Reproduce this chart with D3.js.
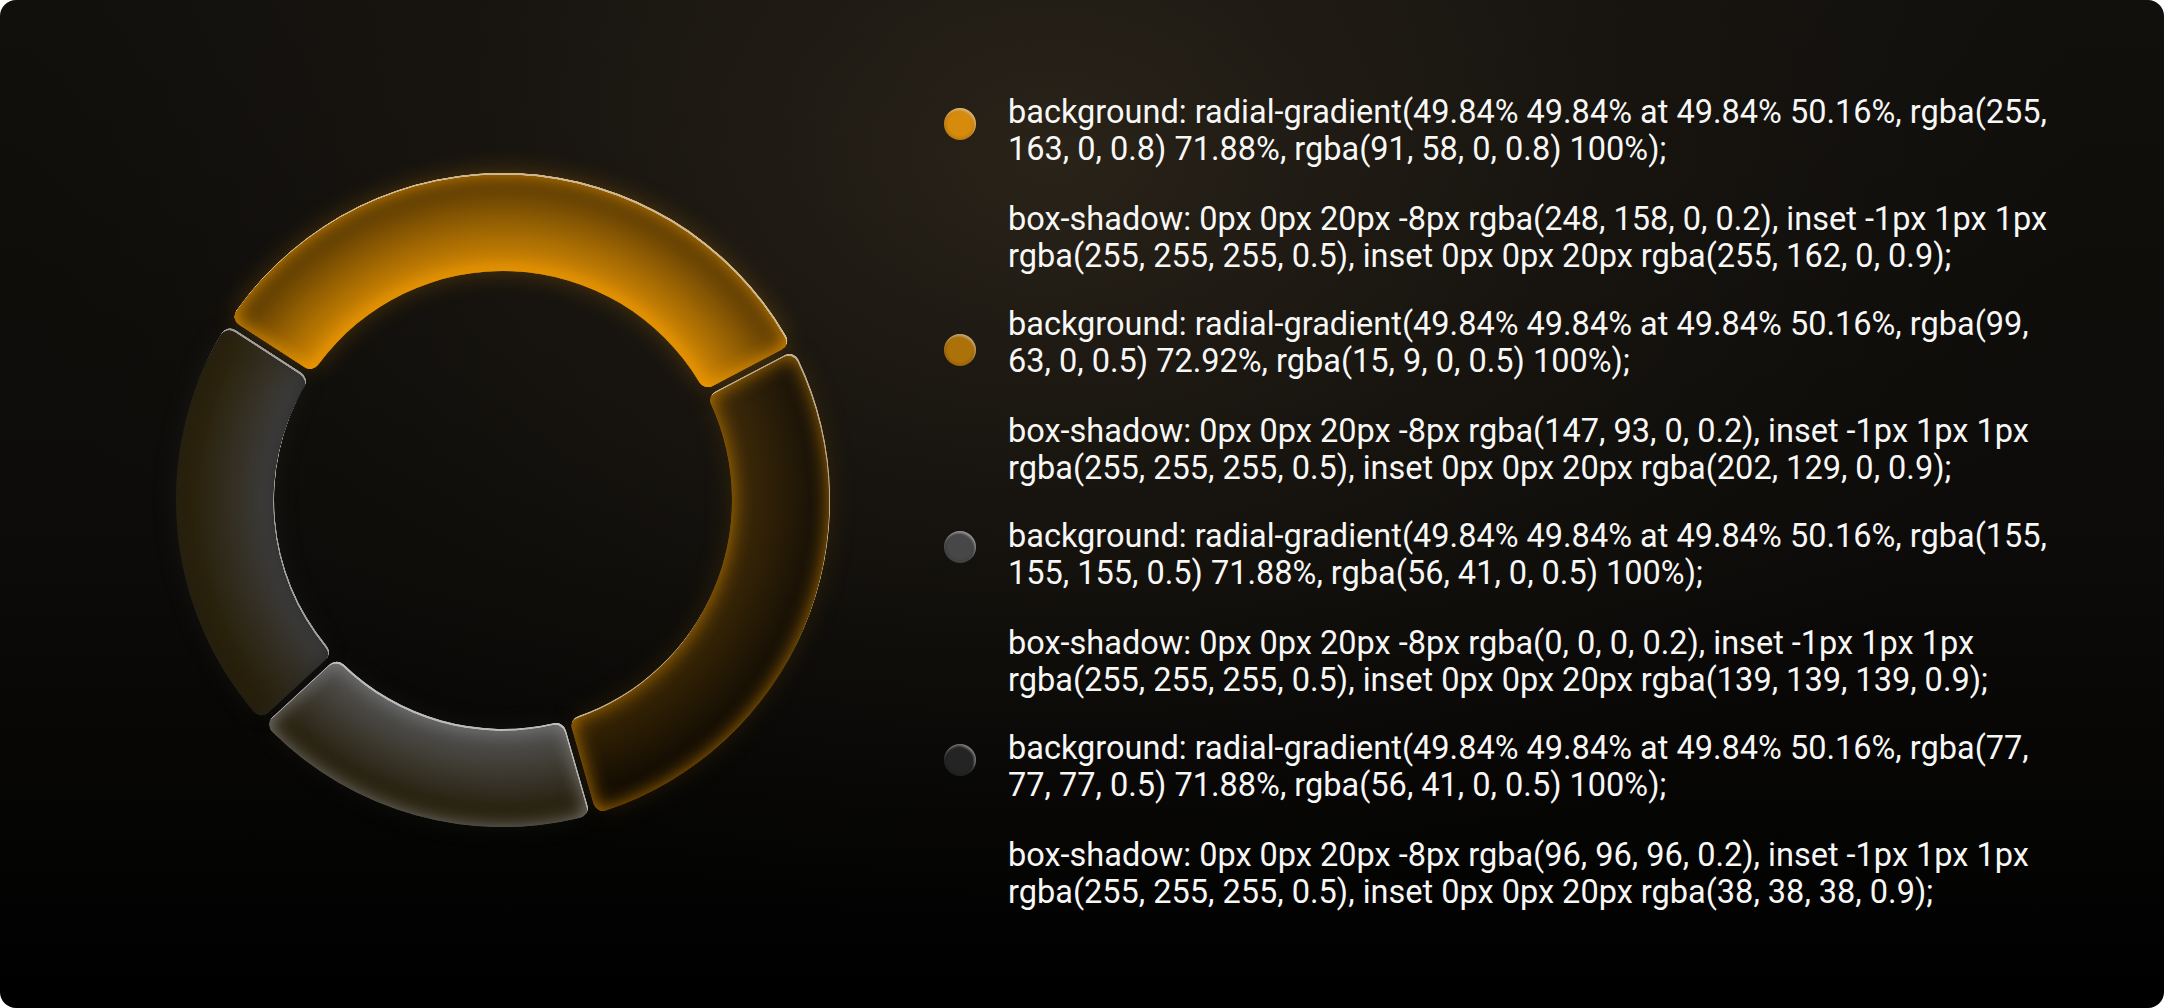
<!DOCTYPE html>
<html>
<head>
<meta charset="utf-8">
<script src="https://cdn.jsdelivr.net/npm/d3@7"></script>
<style>
  html, body { margin: 0; padding: 0; background: #ffffff; }
  svg { display: block; }
</style>
</head>
<body>
<div id="chart"></div>
<script>
// ---------------- data ----------------
const categories = ["Segment 1", "Segment 2", "Segment 3", "Segment 4"];
const values = [33.2, 28.3, 17.5, 21.0];

const backgroundLines = [
  ["background: radial-gradient(49.84% 49.84% at 49.84% 50.16%, rgba(255,", "163, 0, 0.8) 71.88%, rgba(91, 58, 0, 0.8) 100%);"],
  ["background: radial-gradient(49.84% 49.84% at 49.84% 50.16%, rgba(99,", "63, 0, 0.5) 72.92%, rgba(15, 9, 0, 0.5) 100%);"],
  ["background: radial-gradient(49.84% 49.84% at 49.84% 50.16%, rgba(155,", "155, 155, 0.5) 71.88%, rgba(56, 41, 0, 0.5) 100%);"],
  ["background: radial-gradient(49.84% 49.84% at 49.84% 50.16%, rgba(77,", "77, 77, 0.5) 71.88%, rgba(56, 41, 0, 0.5) 100%);"]
];
const shadowLines = [
  ["box-shadow: 0px 0px 20px -8px rgba(248, 158, 0, 0.2), inset -1px 1px 1px", "rgba(255, 255, 255, 0.5), inset 0px 0px 20px rgba(255, 162, 0, 0.9);"],
  ["box-shadow: 0px 0px 20px -8px rgba(147, 93, 0, 0.2), inset -1px 1px 1px", "rgba(255, 255, 255, 0.5), inset 0px 0px 20px rgba(202, 129, 0, 0.9);"],
  ["box-shadow: 0px 0px 20px -8px rgba(0, 0, 0, 0.2), inset -1px 1px 1px", "rgba(255, 255, 255, 0.5), inset 0px 0px 20px rgba(139, 139, 139, 0.9);"],
  ["box-shadow: 0px 0px 20px -8px rgba(96, 96, 96, 0.2), inset -1px 1px 1px", "rgba(255, 255, 255, 0.5), inset 0px 0px 20px rgba(38, 38, 38, 0.9);"]
];

// ---------------- styles ----------------
const styles = [
  { c0: "rgba(255,163,0,0.8)", s0: 0.7188, c1: "rgba(91,58,0,0.8)",  glow: "rgba(255,162,0,0.9)", outer: "rgba(248,158,0,0.35)", dot: "#d68b0c" },
  { c0: "rgba(99,63,0,0.5)",   s0: 0.7292, c1: "rgba(15,9,0,0.5)",   glow: "rgba(202,129,0,0.9)", outer: "rgba(147,93,0,0.3)",  dot: "#ad7109" },
  { c0: "rgba(155,155,155,0.5)", s0: 0.7188, c1: "rgba(56,41,0,0.5)", glow: "rgba(139,139,139,0.9)", outer: "rgba(120,120,120,0.12)", dot: "#474747" },
  { c0: "rgba(77,77,77,0.75)",  s0: 0.7188, c1: "rgba(56,41,0,0.6)",  glow: "rgba(38,38,38,0.75)",  outer: "rgba(96,96,96,0.15)",  dot: "#242424" }
];

const W = 2164, H = 1008;
const cx = 503, cy = 500, R = 327, r = 229;
const startDeg = -57;
const textX = 1008, dotX = 960;
const firstBaseline = 123, itemStep = 212, lineStep = 37, shadowOffset = 107;
const dotDy = [1, 15, 0, 1];

const svg = d3.select("#chart").append("svg")
  .attr("width", W).attr("height", H);

const defs = svg.append("defs");

// background gradients
const lin = defs.append("linearGradient").attr("id", "bgLin")
  .attr("x1", 0).attr("y1", 0).attr("x2", 0).attr("y2", 1);
lin.append("stop").attr("offset", 0).attr("stop-color", "#12100d");
lin.append("stop").attr("offset", 0.55).attr("stop-color", "#0c0b09");
lin.append("stop").attr("offset", 1).attr("stop-color", "#000000");

const rad = defs.append("radialGradient").attr("id", "bgRad")
  .attr("gradientUnits", "userSpaceOnUse")
  .attr("cx", 1050).attr("cy", 160).attr("r", 900)
  .attr("gradientTransform", "translate(1050,160) scale(1.15,0.85) translate(-1050,-160)");
rad.append("stop").attr("offset", 0).attr("stop-color", "rgb(62,52,36)").attr("stop-opacity", 0.55);
rad.append("stop").attr("offset", 0.45).attr("stop-color", "rgb(48,40,28)").attr("stop-opacity", 0.3);
rad.append("stop").attr("offset", 1).attr("stop-color", "rgb(30,26,20)").attr("stop-opacity", 0);

svg.append("rect").attr("width", W).attr("height", H).attr("rx", 16).attr("fill", "url(#bgLin)");
svg.append("rect").attr("width", W).attr("height", H).attr("rx", 16).attr("fill", "url(#bgRad)");

// filters per style
styles.forEach((s, i) => {
  const f = defs.append("filter").attr("id", "fx" + i)
    .attr("x", "-30%").attr("y", "-30%").attr("width", "160%").attr("height", "160%")
    .attr("color-interpolation-filters", "sRGB");
  // opaque mask of the shape (source is semi-transparent)
  const ct = f.append("feComponentTransfer").attr("in", "SourceAlpha").attr("result", "mask");
  ct.append("feFuncA").attr("type", "linear").attr("slope", 3).attr("intercept", 0);
  // outer glow (spread -8, blur 20) - only outside the shape
  f.append("feMorphology").attr("in", "mask").attr("operator", "erode").attr("radius", 4).attr("result", "er");
  f.append("feGaussianBlur").attr("in", "er").attr("stdDeviation", 14).attr("result", "erb");
  f.append("feFlood").attr("flood-color", s.outer).attr("result", "oc");
  f.append("feComposite").attr("in", "oc").attr("in2", "erb").attr("operator", "in").attr("result", "og");
  f.append("feComposite").attr("in", "og").attr("in2", "mask").attr("operator", "out").attr("result", "outerGlow");
  // inset glow
  f.append("feFlood").attr("flood-color", s.glow).attr("result", "gc");
  f.append("feComposite").attr("in", "gc").attr("in2", "mask").attr("operator", "out").attr("result", "inv");
  f.append("feGaussianBlur").attr("in", "inv").attr("stdDeviation", 10).attr("result", "invb");
  f.append("feComposite").attr("in", "invb").attr("in2", "mask").attr("operator", "in").attr("result", "innerGlow");
  // highlight (inset -1 1 1 white .5)
  f.append("feOffset").attr("in", "mask").attr("dx", -1.5).attr("dy", 1.5).attr("result", "off");
  f.append("feFlood").attr("flood-color", "rgba(255,255,255,0.55)").attr("result", "wc");
  f.append("feComposite").attr("in", "wc").attr("in2", "off").attr("operator", "out").attr("result", "winv");
  f.append("feGaussianBlur").attr("in", "winv").attr("stdDeviation", 0.6).attr("result", "winvb");
  f.append("feComposite").attr("in", "winvb").attr("in2", "mask").attr("operator", "in").attr("result", "hl");
  const m = f.append("feMerge");
  m.append("feMergeNode").attr("in", "outerGlow");
  m.append("feMergeNode").attr("in", "SourceGraphic");
  m.append("feMergeNode").attr("in", "innerGlow");
  m.append("feMergeNode").attr("in", "hl");

  // ring gradient (centered on ring, like a full-ring box)
  const g = defs.append("radialGradient").attr("id", "rg" + i)
    .attr("gradientUnits", "userSpaceOnUse")
    .attr("cx", 0).attr("cy", 0).attr("r", R);
  g.append("stop").attr("offset", s.s0).attr("stop-color", s.c0);
  g.append("stop").attr("offset", 1).attr("stop-color", s.c1);

  // dot gradient (bounding box)
  const dg = defs.append("radialGradient").attr("id", "dg" + i)
    .attr("cx", 0.4984).attr("cy", 0.5016).attr("r", 0.4984);
  dg.append("stop").attr("offset", 0).attr("stop-color", s.dot);
  dg.append("stop").attr("offset", s.s0).attr("stop-color", s.dot);
  dg.append("stop").attr("offset", 1).attr("stop-color", d3.color(s.dot).darker(0.4));

  // small filter for dots
  const fd = defs.append("filter").attr("id", "fd" + i)
    .attr("x", "-50%").attr("y", "-50%").attr("width", "200%").attr("height", "200%")
    .attr("color-interpolation-filters", "sRGB");
  fd.append("feOffset").attr("in", "SourceAlpha").attr("dx", -1.5).attr("dy", 1.5).attr("result", "off");
  fd.append("feFlood").attr("flood-color", "rgba(255,255,255,0.45)").attr("result", "wc");
  fd.append("feComposite").attr("in", "wc").attr("in2", "off").attr("operator", "out").attr("result", "winv");
  fd.append("feGaussianBlur").attr("in", "winv").attr("stdDeviation", 0.8).attr("result", "winvb");
  fd.append("feComposite").attr("in", "winvb").attr("in2", "SourceAlpha").attr("operator", "in").attr("result", "hl");
  const md = fd.append("feMerge");
  md.append("feMergeNode").attr("in", "SourceGraphic");
  md.append("feMergeNode").attr("in", "hl");
});

// ---------------- donut ----------------
const a0 = startDeg * Math.PI / 180;
const pie = d3.pie().sort(null).value(d => d)
  .startAngle(a0).endAngle(a0 + 2 * Math.PI)
  .padAngle(0.016);
const arc = d3.arc().innerRadius(r).outerRadius(R).cornerRadius(10);

const ring = svg.append("g").attr("transform", `translate(${cx},${cy})`);
ring.selectAll("path.seg")
  .data(pie(values))
  .join("path")
  .attr("class", "seg")
  .attr("d", arc)
  .attr("fill", (d, i) => `url(#rg${i})`)
  .attr("filter", (d, i) => `url(#fx${i})`)
  .append("title").text((d, i) => categories[i]);

// ---------------- legend ----------------
const legend = svg.append("g");
const items = legend.selectAll("g.item")
  .data(categories)
  .join("g")
  .attr("class", "item")
  .attr("transform", (d, i) => `translate(0,${firstBaseline + i * itemStep})`);

items.append("circle")
  .attr("cx", dotX)
  .attr("cy", (d, i) => dotDy[i])
  .attr("r", 16)
  .attr("fill", (d, i) => `url(#dg${i})`)
  .attr("filter", (d, i) => `url(#fd${i})`);

const txt = items.append("text")
  .attr("x", textX)
  .attr("font-family", "Roboto, 'Noto Sans', sans-serif")
  .attr("font-size", 32.5)
  .attr("fill", "#f7f7f5");

txt.selectAll("tspan")
  .data((d, i) => [
    { t: backgroundLines[i][0], y: 0 },
    { t: backgroundLines[i][1], y: lineStep },
    { t: shadowLines[i][0], y: shadowOffset },
    { t: shadowLines[i][1], y: shadowOffset + lineStep }
  ])
  .join("tspan")
  .attr("x", textX)
  .attr("y", d => d.y)
  .text(d => d.t);
</script>
</body>
</html>
